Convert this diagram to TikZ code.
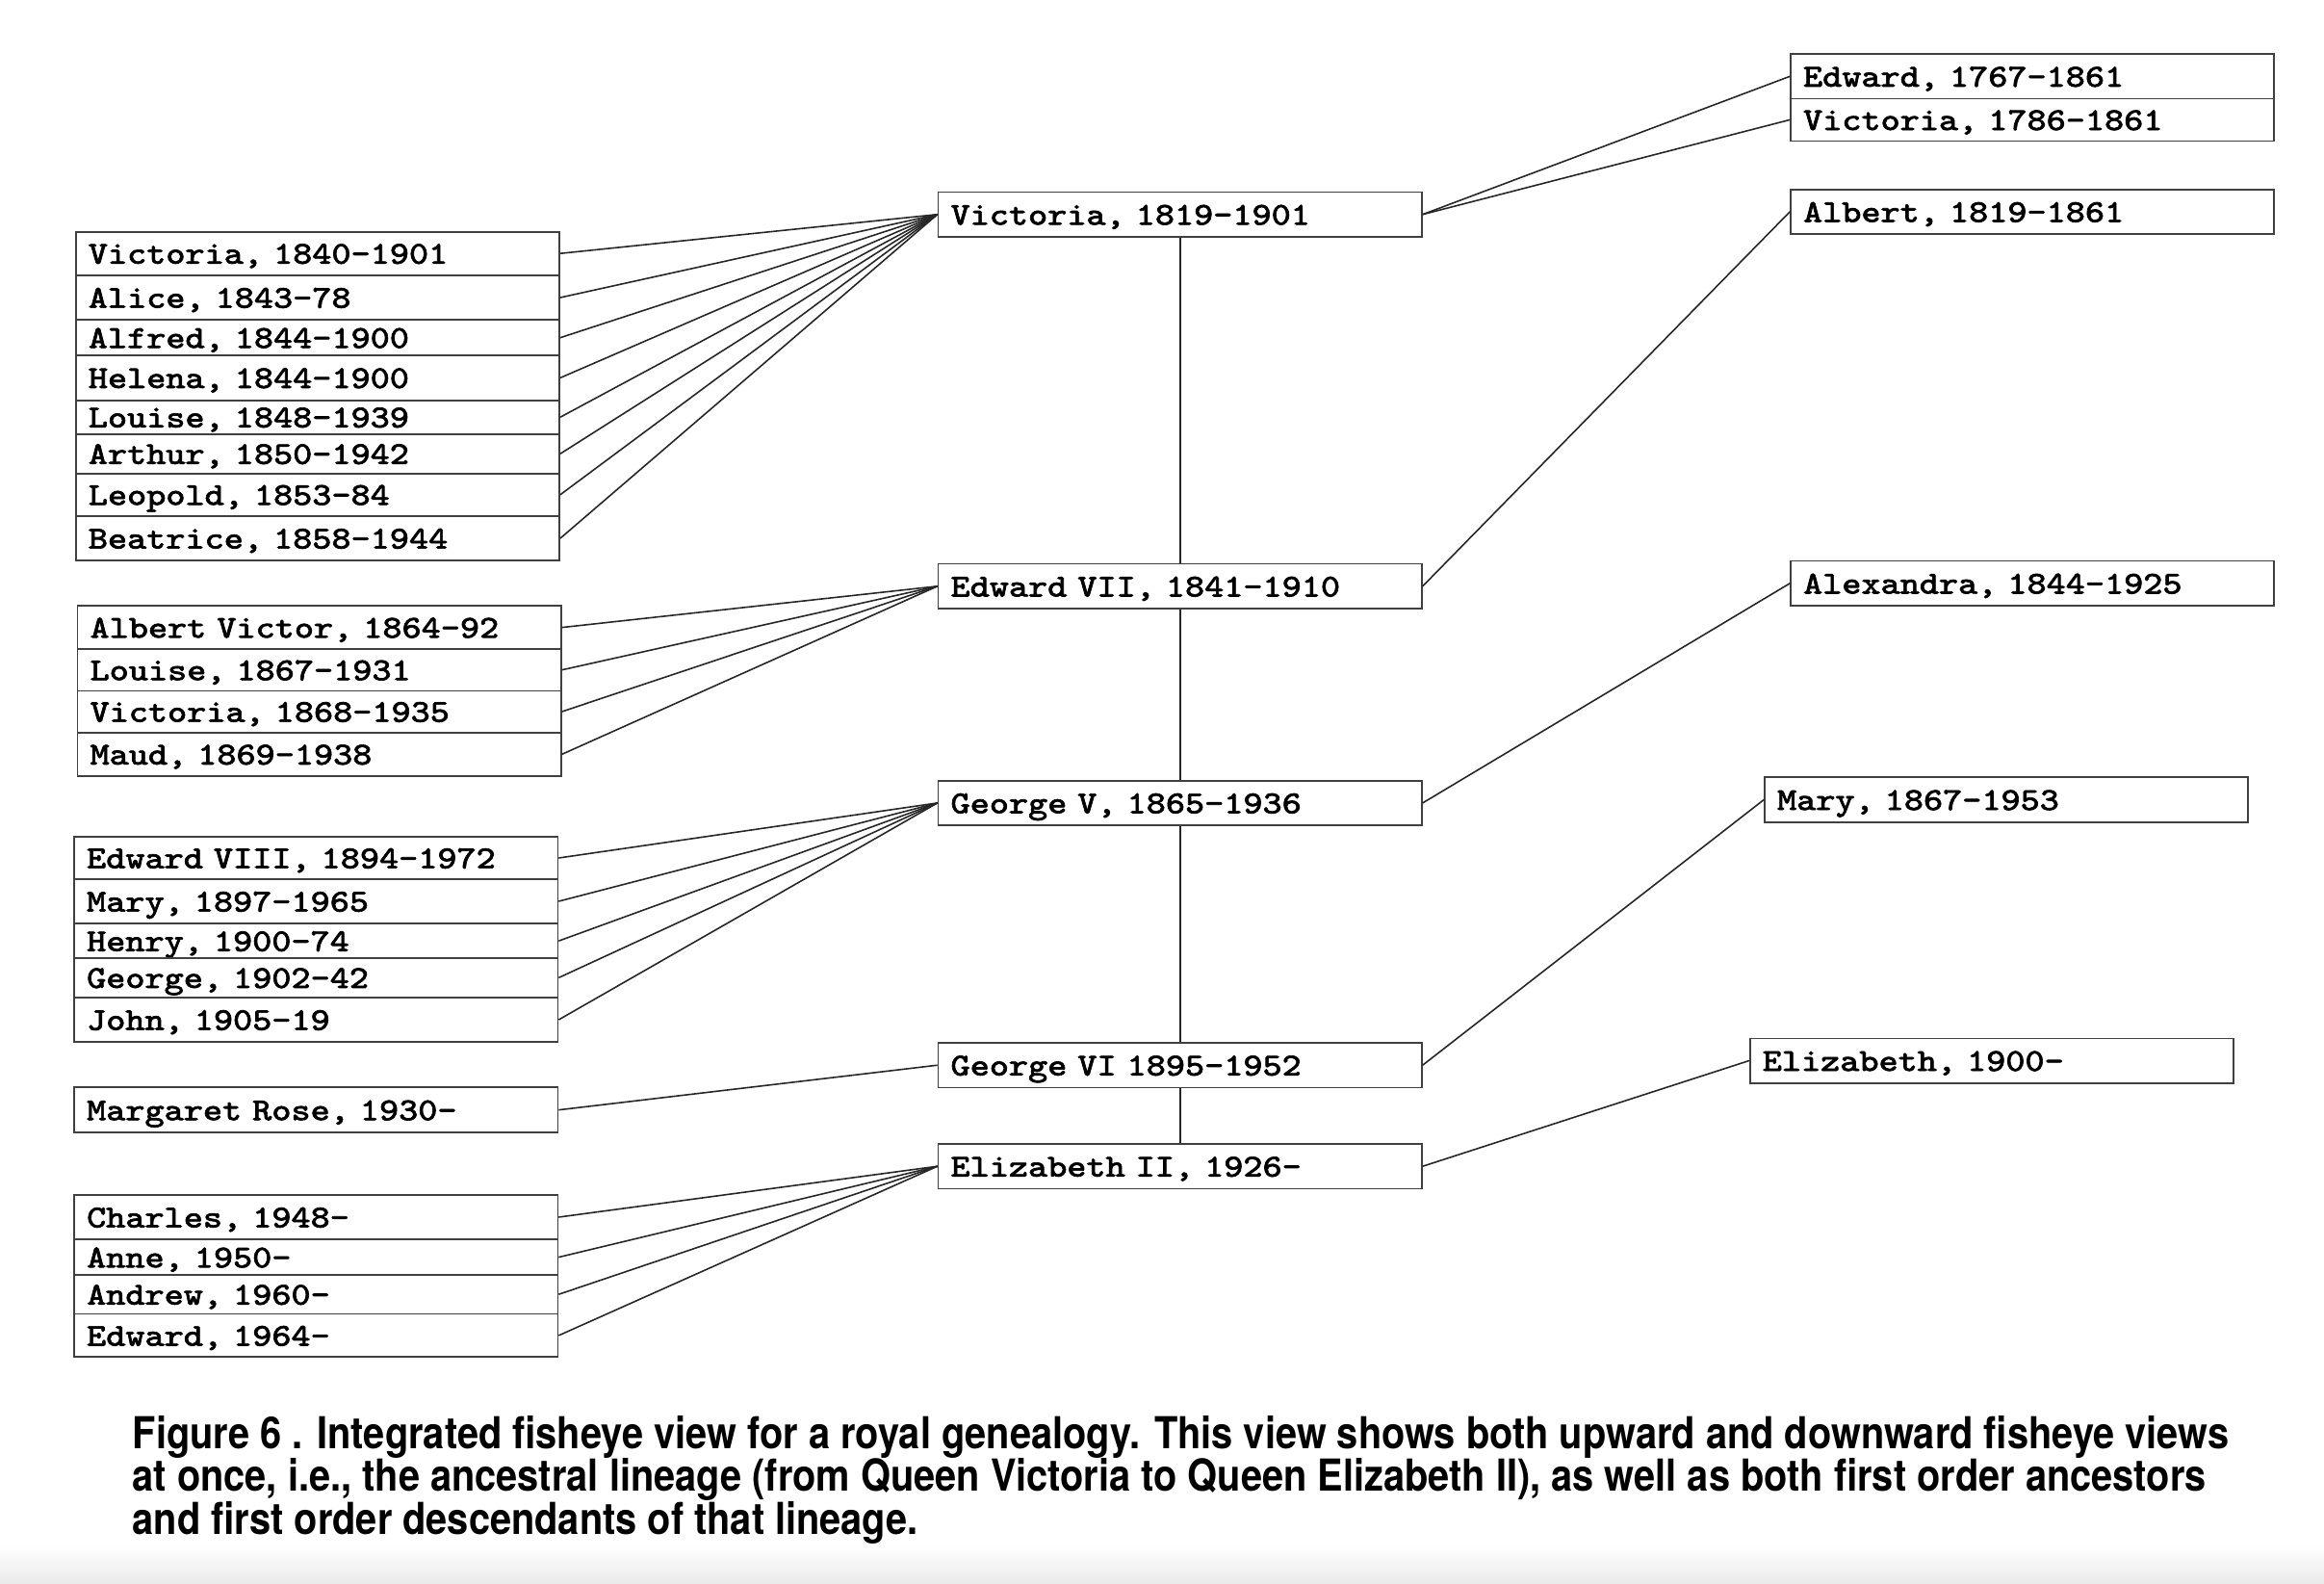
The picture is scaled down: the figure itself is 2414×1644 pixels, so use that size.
\documentclass[tikz,border=0pt]{standalone}
\usepackage{fontspec}
\newfontfamily\cour[FakeStretch=1.16, FakeBold=2]{Latin Modern Mono}
\newfontfamily\capfont{TeX Gyre Heros}
\newcommand{\captionline}[1]{\scalebox{0.87}[1]{#1}}
\begin{document}
\begin{tikzpicture}[x=0.01cm,y=-0.01cm,
  box/.style={draw=black!75, line width=0.5pt, rectangle, inner xsep=0.13cm, inner ysep=0pt,
    text width=4.76cm, align=left, font=\cour\fontsize{9.4}{11}\selectfont,
    text height=0.25cm, text depth=0.038cm},
  rowh/.style={minimum height=#1*0.01cm},
  link/.style={draw=black!85, line width=0.45pt},
  captxt/.style={anchor=base west, inner sep=0pt, font=\capfont\bfseries\fontsize{13}{14}\selectfont}]
\fill[white] (0,0) rectangle (2414,1644);
\useasboundingbox (0,0) rectangle (2414,1644);
\shade[top color=white, bottom color=black!8, draw=none] (0,1605) rectangle (2414,1644);

% middle lineage
\node[box, rowh=46.5] (v19) at (1225.7,222.7) {Victoria, 1819-1901};
\node[box, rowh=46.5] (e7)  at (1225.7,608.8) {Edward VII, 1841-1910};
\node[box, rowh=46.5] (g5)  at (1225.7,833.9) {George V, 1865-1936};
\node[box, rowh=46.5] (g6)  at (1225.7,1106.2) {George VI 1895-1952};
\node[box, rowh=46.5] (e2)  at (1225.7,1211.2) {Elizabeth II, 1926-};

% right column (ancestors)
\node[box, rowh=46.3] (ed67) at (2111.2,79.3) {Edward, 1767-1861};
\node[box, rowh=44.0] (vi86) at (2111.2,124.4) {Victoria, 1786-1861};
\node[box, rowh=46.0] (alb)  at (2111.2,219.9) {Albert, 1819-1861};
\node[box, rowh=46.7] (alex) at (2111.2,605.8) {Alexandra, 1844-1925};
\node[box, rowh=46.5] (mary67) at (2084.2,830.5) {Mary, 1867-1953};
\node[box, rowh=46.2] (eliz00) at (2068.9,1101.5) {Elizabeth, 1900-};

% left group 1
\node[box, rowh=45.0] (vic40) at (330,263.2) {Victoria, 1840-1901};
\node[box, rowh=46.6] (alice) at (330,309.0) {Alice, 1843-78};
\node[box, rowh=36.7] (alfred) at (330,350.65) {Alfred, 1844-1900};
\node[box, rowh=46.7] (helena) at (330,392.35) {Helena, 1844-1900};
\node[box, rowh=35.0] (louise48) at (330,433.2) {Louise, 1848-1939};
\node[box, rowh=41.0] (arthur) at (330,471.2) {Arthur, 1850-1942};
\node[box, rowh=44.0] (leopold) at (330,513.7) {Leopold, 1853-84};
\node[box, rowh=46.6] (beatrice) at (330,559.0) {Beatrice, 1858-1944};

% left group 2
\node[box, rowh=44.5] (albertv) at (331.7,651.6) {Albert Victor, 1864-92};
\node[box, rowh=43.4] (louise67) at (331.7,695.7) {Louise, 1867-1931};
\node[box, rowh=43.2] (vic68) at (331.7,739.0) {Victoria, 1868-1935};
\node[box, rowh=45.4] (maud) at (331.7,783.3) {Maud, 1869-1938};

% left group 3
\node[box, rowh=43.4] (ed8) at (328.3,891.0) {Edward VIII, 1894-1972};
\node[box, rowh=46.6] (mary97) at (328.3,936.0) {Mary, 1897-1965};
\node[box, rowh=35.7] (henry) at (328.3,977.15) {Henry, 1900-74};
\node[box, rowh=40.7] (george02) at (328.3,1015.35) {George, 1902-42};
\node[box, rowh=46.6] (john) at (328.3,1059.0) {John, 1905-19};

% left group 4
\node[box, rowh=46.7] (marg) at (328.3,1152.65) {Margaret Rose, 1930-};

% left group 5
\node[box, rowh=46.5] (charles) at (328.3,1264.0) {Charles, 1948-};
\node[box, rowh=36.8] (anne) at (328.3,1305.6) {Anne, 1950-};
\node[box, rowh=40.4] (andrew) at (328.3,1344.2) {Andrew, 1960-};
\node[box, rowh=44.9] (edward64) at (328.3,1386.9) {Edward, 1964-};

% lineage
\draw[link] (v19.south) -- (e7.north);
\draw[link] (e7.south) -- (g5.north);
\draw[link] (g5.south) -- (g6.north);
\draw[link] (g6.south) -- (e2.north);

% descendants
\foreach \n in {vic40,alice,alfred,helena,louise48,arthur,leopold,beatrice}
  \draw[link] (\n.east) -- (v19.west);
\foreach \n in {albertv,louise67,vic68,maud}
  \draw[link] (\n.east) -- (e7.west);
\foreach \n in {ed8,mary97,henry,george02,john}
  \draw[link] (\n.east) -- (g5.west);
\draw[link] (marg.east) -- (g6.west);
\foreach \n in {charles,anne,andrew,edward64}
  \draw[link] (\n.east) -- (e2.west);

% ancestors
\draw[link] (v19.east) -- (ed67.west);
\draw[link] (v19.east) -- (vi86.west);
\draw[link] (e7.east) -- (alb.west);
\draw[link] (g5.east) -- (alex.west);
\draw[link] (g6.east) -- (mary67.west);
\draw[link] (e2.east) -- (eliz00.west);

% caption
\node[captxt] (cap1) at (137,1504) {\captionline{Figure 6 . Integrated fisheye view for a royal genealogy. This view shows both upward and downward fisheye views}};
\node[captxt] (cap2) at (137,1548.6) {\captionline{at once, i.e., the ancestral lineage (from Queen Victoria to Queen Elizabeth II), as well as both first order ancestors}};
\node[captxt] (cap3) at (137,1593.2) {\captionline{and first order descendants of that lineage.}};
\end{tikzpicture}
\end{document}
